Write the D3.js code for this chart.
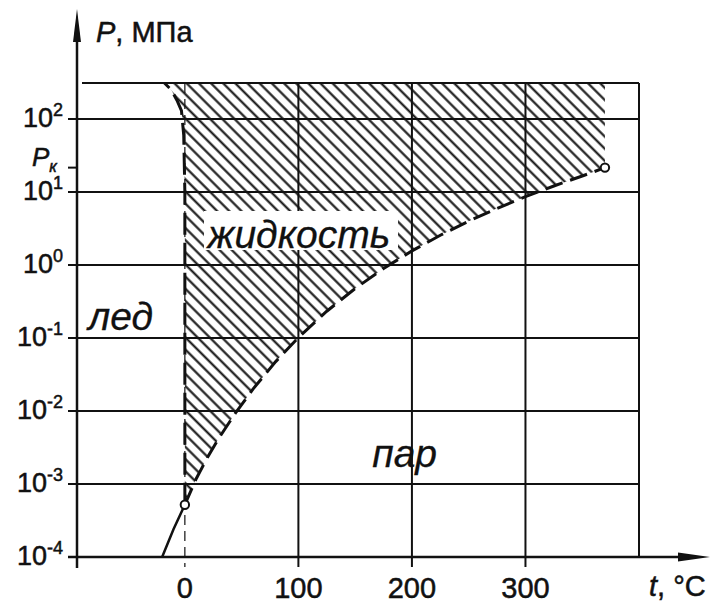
<!DOCTYPE html>
<html><head><meta charset="utf-8">
<script src="https://cdn.jsdelivr.net/npm/d3@7"></script>
<style>body{margin:0;background:#fff}</style>
</head><body>
<svg id="c" width="712" height="603"></svg>
<script>
// ---- data ----
const yTickExps = [-4, -3, -2, -1, 0, 1, 2];
const xTickValues = [0, 100, 200, 300];
const xTickLabels = ["0", "100", "200", "300"];
const vaporT = [0.01, 10, 20, 30, 45, 60, 80, 100, 125, 150, 175, 200, 225, 250, 275, 300, 325, 350, 370];
const vaporP = [0.00052, 0.00118, 0.00232, 0.00425, 0.00959, 0.0199, 0.0474, 0.1014, 0.232, 0.476, 0.892, 1.555, 2.548, 3.976, 5.95, 8.59, 12.05, 16.5, 21.5];
const meltT = [0.01, 0, -1, -3, -7, -12, -18];
const meltP = [0.00052, 10, 60, 130, 180, 250, 310];
const sublT = [-20, -10, 0.01];
const sublP = [0.0001, 0.00024, 0.00052];
const triplePoint = [0.01, 0.00052];
const criticalPoint = [370, 21.5];
const regionNames = ["лед", "жидкость", "пар"];
const regionPos = [[-85, 0.13], [20, 1.7], [165, 0.0017]];

// ---- setup ----
const svg = d3.select("#c");
const x = d3.scaleLinear().domain([-95, 400]).range([77, 639]);
const y = d3.scaleLog().domain([1e-4, 310]).range([557, 83]);
const FONT = "'Liberation Sans', Arial, sans-serif";
const pMin = y.domain()[0], pMax = y.domain()[1];
const tMax = x.domain()[1];

const defs = svg.append("defs");
const pat = defs.append("pattern").attr("id", "hatch")
  .attr("patternUnits", "userSpaceOnUse").attr("width", 8.6).attr("height", 8.6)
  .attr("patternTransform", "rotate(-45)");
pat.append("line").attr("x1", 4.3).attr("y1", -1).attr("x2", 4.3).attr("y2", 10)
  .attr("stroke", "#111").attr("stroke-width", 2.1);

const line = d3.line().x(d => x(d[0])).y(d => y(d[1]));
const zip = (a, b) => a.map((v, i) => [v, b[i]]);

// ---- grid ----
const g = svg.append("g").attr("stroke", "#111").attr("fill", "none");
yTickExps.forEach(e => {
  const p = Math.pow(10, e);
  g.append("line").attr("x1", 68).attr("x2", x(tMax)).attr("y1", y(p)).attr("y2", y(p))
    .attr("stroke-width", 2);
});
g.append("line").attr("x1", 82).attr("x2", x(tMax)).attr("y1", y(pMax)).attr("y2", y(pMax)).attr("stroke-width", 2);
g.append("line").attr("x1", x(tMax)).attr("x2", x(tMax)).attr("y1", y(pMax)).attr("y2", y(pMin)).attr("stroke-width", 2);
xTickValues.forEach(t => {
  g.append("line").attr("x1", x(t)).attr("x2", x(t)).attr("y1", y(pMax)).attr("y2", y(pMin) + 10)
    .attr("stroke-width", t === 0 ? 1.2 : 2)
    .attr("stroke-dasharray", t === 0 ? "10,6" : null);
});

// ---- hatched liquid region ----
const region = zip(meltT, meltP)
  .concat([[criticalPoint[0], pMax], criticalPoint])
  .concat(zip(vaporT, vaporP).reverse());
svg.append("path").attr("d", line(region) + "Z").attr("fill", "url(#hatch)").attr("stroke", "none");

svg.append("rect").attr("x", 204).attr("y", 211).attr("width", 194).attr("height", 39).attr("fill", "#fff");

// ---- curves ----
svg.append("path").attr("d", line(zip(meltT, meltP))).attr("fill", "none")
  .attr("stroke", "#111").attr("stroke-width", 3).attr("stroke-dasharray", "22,8");
svg.append("path").attr("d", line(zip(vaporT, vaporP))).attr("fill", "none")
  .attr("stroke", "#111").attr("stroke-width", 3).attr("stroke-dasharray", "18,8");
svg.append("path").attr("d", line(zip(sublT, sublP))).attr("fill", "none")
  .attr("stroke", "#111").attr("stroke-width", 2.5);
[triplePoint, criticalPoint].forEach(pt => {
  svg.append("circle").attr("cx", x(pt[0])).attr("cy", y(pt[1])).attr("r", 4.2)
    .attr("fill", "#fff").attr("stroke", "#111").attr("stroke-width", 2);
});

// ---- axes ----
const ax = svg.append("g").attr("stroke", "#111");
ax.append("line").attr("x1", 77).attr("x2", 77).attr("y1", y(pMin) + 11).attr("y2", 30).attr("stroke-width", 2.5);
ax.append("path").attr("d", "M77,9 L81,42 L73,42 Z").attr("fill", "#111").attr("stroke", "none");
ax.append("line").attr("x1", 68).attr("x2", 690).attr("y1", y(pMin)).attr("y2", y(pMin)).attr("stroke-width", 2.5);
ax.append("path").attr("d", `M710,${y(pMin)} L678,${y(pMin) - 4.5} L678,${y(pMin) + 4.5} Z`).attr("fill", "#111").attr("stroke", "none");
ax.append("line").attr("x1", 68).attr("x2", 77).attr("y1", y(criticalPoint[1])).attr("y2", y(criticalPoint[1])).attr("stroke-width", 2);

const txt = sel => sel.attr("font-family", FONT).attr("fill", "#111").attr("stroke", "#111").attr("stroke-width", 0.5);

// y tick labels
yTickExps.forEach(e => {
  const t = svg.append("text").attr("x", 63).attr("y", y(Math.pow(10, e)) + 8)
    .attr("text-anchor", "end").call(txt);
  t.append("tspan").attr("font-size", 27).text("10");
  t.append("tspan").attr("font-size", 18).attr("dy", -11).text(e < 0 ? "-" + (-e) : String(e));
});
// Pk label
const pk = svg.append("text").attr("x", 32).attr("y", y(criticalPoint[1]) - 2).call(txt);
pk.append("tspan").attr("font-size", 26).attr("font-style", "italic").text("P");
pk.append("tspan").attr("font-size", 16).attr("font-style", "italic").attr("dy", 6).text("к");

// x tick labels
xTickValues.forEach((t, i) => {
  svg.append("text").attr("x", x(t)).attr("y", 598).attr("text-anchor", "middle")
    .attr("font-size", 29).call(txt).text(xTickLabels[i]);
});

// axis titles
const yt = svg.append("text").attr("x", 96).attr("y", 42).attr("font-size", 29).call(txt);
yt.append("tspan").attr("font-style", "italic").text("P");
yt.append("tspan").text(", МПа");
const xt = svg.append("text").attr("x", 649).attr("y", 596).attr("font-size", 29).call(txt);
xt.append("tspan").attr("font-style", "italic").text("t");
xt.append("tspan").text(", °C");

// region labels
regionNames.forEach((n, i) => {
  svg.append("text").attr("x", x(regionPos[i][0])).attr("y", y(regionPos[i][1]))
    .attr("font-size", 39).attr("font-style", "italic").call(txt)
    .attr("stroke-width", 0.3).text(n);
});
</script>
</body></html>
